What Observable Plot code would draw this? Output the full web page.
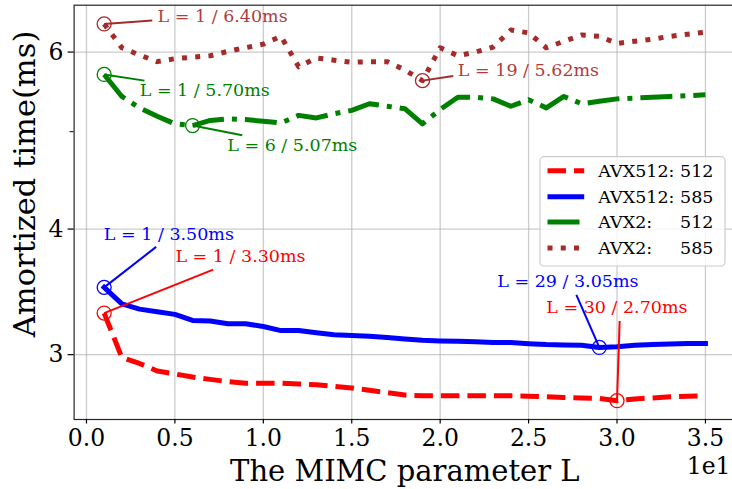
<!DOCTYPE html>
<html><head><meta charset="utf-8">
<script src="https://cdn.jsdelivr.net/npm/d3@7"></script>
<script src="https://cdn.jsdelivr.net/npm/@observablehq/plot@0.6"></script>
<style>body{margin:0;background:#fff}</style>
</head><body><div id="chart"></div>
<script>
// ---- data ----
const L = [1,2,3,4,5,6,7,8,9,10,11,12,13,14,15,16,17,18,19,20,21,22,23,24,25,26,27,28,29,30,31,32,33,34,35];
const avx512_512 = [3.30,2.98,2.94,2.89,2.87,2.85,2.835,2.82,2.81,2.81,2.81,2.805,2.80,2.79,2.78,2.765,2.75,2.735,2.73,2.73,2.73,2.73,2.73,2.73,2.728,2.724,2.72,2.717,2.714,2.70,2.711,2.717,2.724,2.727,2.73];
const avx512_585 = [3.50,3.37,3.33,3.31,3.29,3.245,3.24,3.22,3.22,3.20,3.17,3.17,3.155,3.14,3.135,3.13,3.12,3.11,3.10,3.096,3.094,3.09,3.085,3.084,3.076,3.07,3.067,3.065,3.05,3.055,3.065,3.07,3.075,3.077,3.077];
const avx2_512 = [5.70,5.42,5.28,5.18,5.09,5.07,5.13,5.15,5.14,5.12,5.10,5.19,5.16,5.21,5.25,5.33,5.30,5.27,5.09,5.26,5.41,5.41,5.39,5.30,5.38,5.28,5.42,5.33,5.36,5.39,5.40,5.41,5.42,5.43,5.44];
const avx2_585 = [6.40,6.06,5.96,5.87,5.91,5.93,5.95,6.01,6.06,6.11,6.22,5.80,5.92,5.89,5.86,5.87,5.87,5.76,5.62,6.06,5.95,6.00,6.07,6.31,6.27,6.06,6.15,6.24,6.22,6.12,6.15,6.18,6.22,6.25,6.28];
const seriesNames = ["AVX512: 512", "AVX512: 585", "AVX2:     512", "AVX2:     585"];
const xTicks = [0,5,10,15,20,25,30,35];
const yTicks = [3,4,6];
const yMinorTicks = [5];
// annotations: point (L, v), text anchor (tx, ty), leader end (lx, ly) in data units
const annotations = [
  {s:3, L:1,  v:6.40, text:"L = 1 / 6.40ms",  tx:4.02,  ty:6.51, lx:3.72,  ly:6.45},
  {s:2, L:1,  v:5.70, text:"L = 1 / 5.70ms",  tx:3.01,  ty:5.50, lx:3.28,  ly:5.62},
  {s:2, L:6,  v:5.07, text:"L = 6 / 5.07ms",  tx:7.96,  ty:4.84, lx:8.81,  ly:4.96},
  {s:3, L:19, v:5.62, text:"L = 19 / 5.62ms", tx:21.0,  ty:5.75, lx:20.74, ly:5.68},
  {s:1, L:1,  v:3.50, text:"L = 1 / 3.50ms",  tx:0.98,  ty:3.95, lx:3.94,  ly:3.84},
  {s:0, L:1,  v:3.30, text:"L = 1 / 3.30ms",  tx:5.03,  ty:3.76, lx:7.17,  ly:3.645},
  {s:1, L:29, v:3.05, text:"L = 29 / 3.05ms", tx:23.23, ty:3.55, lx:27.7,  ly:3.44},
  {s:0, L:30, v:2.70, text:"L = 30 / 2.70ms", tx:26.0,  ty:3.345,lx:30.15, ly:3.24}
];

// ---- styles ----
const colors = ["#ff0000", "#0000ff", "#008000", "#a52a2a"];
const textColors = ["#ff0000", "#0000ff", "#008000", "#b03c3c"];
const dashes = ["18.5,8", null, "32,8,5,8", "5,8.25"];
const caps = ["butt", "square", "butt", "butt"];
const values = [avx512_512, avx512_585, avx2_512, avx2_585];
const W = 732, H = 489;
const x0 = 73.6, x1 = 735, yTop = 4.7, yBot = 419;

const lineMarks = values.map((vals, i) => Plot.line(L.map((l, j) => ({L: l, v: vals[j]})), {
  x: "L", y: "v", stroke: colors[i], strokeWidth: 5,
  strokeDasharray: dashes[i] ?? undefined, strokeLinecap: caps[i], strokeLinejoin: "round"
}));

const chart = Plot.plot({
  width: W, height: H,
  marginLeft: x0, marginRight: W - x1, marginTop: yTop, marginBottom: H - yBot,
  style: {fontFamily: "DejaVu Serif", background: "white", color: "black"},
  x: {type: "linear", domain: [-0.7, 36.7], range: [x0, x1]},
  y: {type: "log", domain: [2.586, 6.68], range: [yBot, yTop]},
  marks: [
    Plot.gridX(xTicks, {stroke: "#b0b0b0", strokeOpacity: 0.65, strokeWidth: 1.3}),
    Plot.gridY(yTicks, {stroke: "#b0b0b0", strokeOpacity: 0.65, strokeWidth: 1.3}),
    ...lineMarks,
    Plot.link(annotations, {x1: "L", y1: "v", x2: "lx", y2: "ly", stroke: d => colors[d.s], strokeWidth: 2}),
    Plot.dot(annotations, {x: "L", y: "v", r: 7, stroke: d => colors[d.s], fill: "none", strokeWidth: 1.3}),
    Plot.text(annotations, {x: "tx", y: "ty", text: "text", fill: d => textColors[d.s], textAnchor: "start", lineAnchor: "middle", fontSize: 17.5}),
    Plot.frame({stroke: "#262626", strokeWidth: 1.2}),
    Plot.axisX(xTicks, {tickFormat: d => (d / 10).toFixed(1), tickSize: 4.5, tickPadding: 5.5, fontSize: 23.5, label: null, strokeWidth: 1.2}),
    Plot.axisY(yTicks, {tickFormat: d => String(d), tickSize: 6, tickPadding: 4.6, fontSize: 23.5, label: null, strokeWidth: 1.2}),
    Plot.axisY(yMinorTicks, {tickFormat: () => "", tickSize: 4, label: null, strokeWidth: 1}),
    Plot.text(["The MIMC parameter L"], {text: d => d, frameAnchor: "bottom", textAnchor: "middle", lineAnchor: "middle", dy: 52.7, fontSize: 29}),
    Plot.text(["Amortized time(ms)"], {text: d => d, frameAnchor: "left", textAnchor: "middle", lineAnchor: "middle", rotate: -90, dx: -48.4, dy: -28.4, fontSize: 30.5}),
    Plot.text(["1e1"], {text: d => d, frameAnchor: "bottom-right", textAnchor: "end", lineAnchor: "top", dy: 37.5, dx: -5, fontSize: 23.5})
  ]
});
document.getElementById("chart").appendChild(chart);

// ---- legend ----
const svg = d3.select(chart);
const lg = svg.append("g").attr("font-family", "DejaVu Serif").attr("font-size", 17.5).attr("text-anchor", "start");
lg.append("rect").attr("x", 540).attr("y", 156.7).attr("width", 185).attr("height", 109.3)
  .attr("rx", 4).attr("fill", "white").attr("fill-opacity", 0.8).attr("stroke", "#cccccc").attr("stroke-width", 1.2);
const rowY = [170.7, 196.7, 221.9, 248.1];
seriesNames.forEach((name, i) => {
  lg.append("line").attr("x1", 547.5).attr("x2", 584.2).attr("y1", rowY[i]).attr("y2", rowY[i])
    .attr("stroke", colors[i]).attr("stroke-width", 5)
    .attr("stroke-dasharray", dashes[i]).attr("stroke-linecap", caps[i] === "square" ? "butt" : caps[i]);
  lg.append("text").attr("x", 598.3).attr("y", rowY[i]).attr("dy", "0.35em").attr("text-anchor", "start")
    .style("white-space", "pre").attr("fill", "black").text(name);
});
</script>
</body></html>
